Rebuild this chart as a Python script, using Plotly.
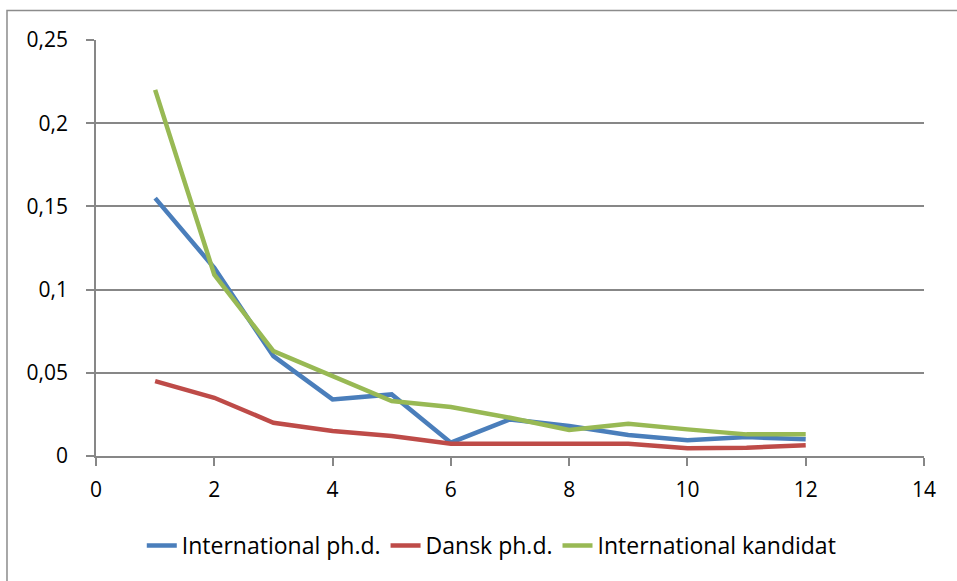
import plotly.graph_objects as go

x_vals = [1, 2, 3, 4, 5, 6, 7, 8, 9, 10, 11, 12]
intl_phd = [0.155, 0.113, 0.060, 0.034, 0.037, 0.008, 0.022, 0.018, 0.0126, 0.0094, 0.0114, 0.010]
dansk_phd = [0.045, 0.035, 0.020, 0.015, 0.012, 0.0074, 0.0074, 0.0074, 0.0074, 0.0046, 0.005, 0.0064]
intl_kand = [0.22, 0.109, 0.063, 0.048, 0.033, 0.0294, 0.023, 0.0156, 0.0194, 0.016, 0.013, 0.013]

names = ["International ph.d.", "Dansk ph.d.", "International kandidat"]
colors = ["#4A7EBB", "#BE4B48", "#98B954"]

FONT = "Open Sans"
fig = go.Figure()
for name, ys, c in zip(names, [intl_phd, dansk_phd, intl_kand], colors):
    fig.add_trace(go.Scatter(x=x_vals, y=ys, mode="lines", name=name,
                             line=dict(color=c, width=4.5)))

grid = "#878787"
fig.update_layout(
    width=957, height=581,
    margin=dict(l=96, r=33, t=40, b=125),
    paper_bgcolor="white", plot_bgcolor="white",
    separators=", ",
    font=dict(family=FONT, size=21, color="black"),
    showlegend=True,
    legend=dict(orientation="h", x=0.478, xanchor="center", y=-0.215, yanchor="middle",
                font=dict(family=FONT, size=23, color="black"),
                itemwidth=30, tracegroupgap=0),
    xaxis=dict(range=[0, 14], dtick=2, tick0=0, showgrid=False,
               showline=True, linecolor=grid, linewidth=1.5,
               ticks="outside", ticklen=8, tickcolor=grid, tickwidth=1.5,
               zeroline=False, tickfont=dict(size=21), ticklabelstandoff=6),
    yaxis=dict(range=[0, 0.25], dtick=0.05, tick0=0, showgrid=True,
               gridcolor=grid, gridwidth=1.5,
               showline=True, linecolor=grid, linewidth=1.5,
               ticks="outside", ticklen=8, tickcolor=grid, tickwidth=1.5,
               zeroline=False, tickfont=dict(size=21), ticklabelstandoff=14),
    shapes=[dict(type="rect", xref="paper", yref="paper",
                 x0=-0.1075, x1=1.2, y0=-0.5, y1=1.071,
                 line=dict(color="#8C8C8C", width=1.5), layer="below")],
)

fig.write_html("out.html", config={"displayModeBar": False},
               post_script="document.body.style.margin='0';document.body.style.overflow='hidden';")
